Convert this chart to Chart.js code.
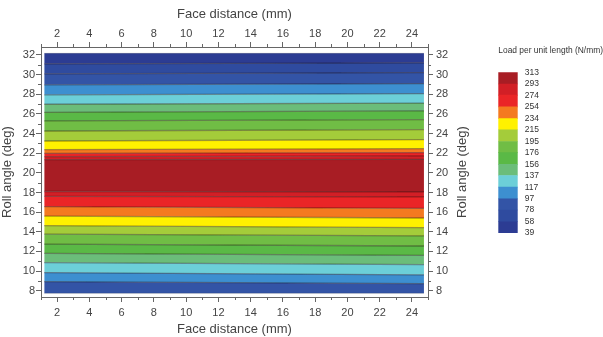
<!DOCTYPE html>
<html>
<head>
<meta charset="utf-8">
<script src="https://cdn.jsdelivr.net/npm/chart.js@4.4.1/dist/chart.umd.min.js"></script>
<style>
  body { margin: 0; background: #fff; }
  #wrap { position: relative; width: 603px; height: 337px; }
  #mainChart { position: absolute; left: 0; top: 0; }
  #scaleChart { position: absolute; left: 488px; top: 40px; }
</style>
</head>
<body>
<div id="wrap">
  <canvas id="mainChart" width="603" height="337"></canvas>
  <canvas id="scaleChart" width="115" height="205"></canvas>
</div>
<script>
// contour levels (N/mm) and the colour of each band between two levels
const levels = [39, 58, 78, 97, 117, 137, 156, 176, 195, 215, 234, 254, 274, 293, 313];
const bandColors = ['#2c3c93', '#2f4b9f', '#3354a6', '#3d8fd0', '#6ccfd8', '#6bbd7a', '#5ab946',
  '#70bd45', '#a4cc3a', '#fff100', '#f47a20', '#ea2527', '#d21f26', '#a81d24'];

// extent of the computed field
const xEnds = [1.2, 24.75];
const yBottom = 7.73;
const yTop = 32.17;

// contour lines below the peak (roll angle at left end / right end)
const lowerLevels = [97, 117, 137, 156, 176, 195, 215, 234, 254, 274, 293];
const lowerLeft  = [8.92, 9.85, 10.86, 11.8, 12.75, 13.76, 14.62, 15.6, 16.55, 17.6, 18.1];
const lowerRight = [8.72, 9.62, 10.66, 11.6, 12.55, 13.58, 14.42, 15.4, 16.38, 17.55, 18.06];

// contour lines above the peak
const upperLevels = [293, 274, 254, 234, 215, 195, 176, 156, 137, 117, 97, 78, 58];
const upperLeft  = [21.34, 21.64, 21.98, 22.36, 23.24, 24.26, 25.28, 26.16, 26.98, 27.94, 28.96, 30.08, 31.1];
const upperRight = [21.38, 21.72, 22.06, 22.46, 23.38, 24.4, 25.42, 26.3, 27.1, 28.06, 29.08, 30.2, 31.2];

// axis ticks
const xTicks = [2, 4, 6, 8, 10, 12, 14, 16, 18, 20, 22, 24];
const xMinor = [1, 3, 5, 7, 9, 11, 13, 15, 17, 19, 21, 23, 25];
const yTicks = [8, 10, 12, 14, 16, 18, 20, 22, 24, 26, 28, 30, 32];
const yMinor = [9, 11, 13, 15, 17, 19, 21, 23, 25, 27, 29, 31];

const frameColor = '#666';
const textColor = '#444';
const font = 'Liberation Sans, Arial, sans-serif';

function edge(y) {
  return xEnds.map(x => ({ x: x, y: y }));
}
function contour(l, r) {
  return [{ x: xEnds[0], y: l }, { x: xEnds[1], y: r }];
}

// build the stack of lines from the bottom of the plot to the top,
// each one filled down to the previous line with its band colour
const lines = [{ data: edge(yBottom), band: -1, edge: true }];
lowerLevels.forEach((lv, i) => {
  lines.push({ data: contour(lowerLeft[i], lowerRight[i]), band: levels.indexOf(lv) - 1 });
});
upperLevels.forEach((lv, i) => {
  lines.push({ data: contour(upperLeft[i], upperRight[i]), band: levels.indexOf(lv) });
});
lines.push({ data: edge(yTop), band: 0, edge: true });

const datasets = lines.map((l, i) => ({
  data: l.data,
  borderColor: l.edge ? 'rgba(0,0,0,0.12)' : 'rgba(30,10,10,0.38)',
  borderWidth: 1.3,
  backgroundColor: l.band >= 0 ? bandColors[l.band] : 'transparent',
  fill: i === 0 ? false : '-1',
  pointRadius: 0,
  tension: 0
}));

function axisGrid() {
  return { display: true, drawOnChartArea: false, drawTicks: true, tickLength: 5, color: frameColor };
}
function tickFont() {
  return { family: font, size: 11 };
}
function titleFont() {
  return { family: font, size: 13 };
}

// minor tick marks and the right-hand axis title (reads bottom to top)
const extras = {
  id: 'extras',
  afterDraw(chart) {
    const { ctx, chartArea: a, scales } = chart;
    ctx.save();
    ctx.strokeStyle = frameColor;
    ctx.lineWidth = 1;
    ctx.beginPath();
    xMinor.forEach(v => {
      const px = Math.round(scales.x.getPixelForValue(v)) + 0.5;
      ctx.moveTo(px, a.top); ctx.lineTo(px, a.top - 3);
      ctx.moveTo(px, a.bottom); ctx.lineTo(px, a.bottom + 3);
    });
    yMinor.forEach(v => {
      const py = Math.round(scales.y.getPixelForValue(v)) + 0.5;
      ctx.moveTo(a.left, py); ctx.lineTo(a.left - 3, py);
      ctx.moveTo(a.right, py); ctx.lineTo(a.right + 3, py);
    });
    ctx.stroke();

    ctx.fillStyle = textColor;
    ctx.font = '13px ' + font;
    ctx.textAlign = 'center';
    ctx.textBaseline = 'middle';
    ctx.translate(462, (a.top + a.bottom) / 2);
    ctx.rotate(-Math.PI / 2);
    ctx.fillText('Roll angle (deg)', 0, 0);
    ctx.restore();
  }
};

new Chart(document.getElementById('mainChart'), {
  type: 'line',
  data: { datasets: datasets },
  options: {
    responsive: false,
    animation: false,
    layout: { padding: { left: 0, right: 135, top: 0, bottom: 0 } },
    plugins: {
      legend: { display: false },
      tooltip: { enabled: false },
      filler: { propagate: false, drawTime: 'beforeDatasetsDraw' }
    },
    scales: {
      x: {
        type: 'linear', position: 'bottom', min: 1, max: 25,
        afterBuildTicks: s => { s.ticks = xTicks.map(v => ({ value: v })); },
        afterFit: s => { s.height = 40; },
        ticks: { color: textColor, font: tickFont(), padding: 4, maxRotation: 0, autoSkip: false },
        grid: axisGrid(),
        border: { display: true, color: frameColor },
        title: { display: true, text: 'Face distance (mm)', color: textColor, font: titleFont(), padding: { top: 0, bottom: 0 } }
      },
      x2: {
        type: 'linear', position: 'top', min: 1, max: 25,
        afterBuildTicks: s => { s.ticks = xTicks.map(v => ({ value: v })); },
        afterFit: s => { s.height = 47; },
        ticks: { color: textColor, font: tickFont(), padding: 1, maxRotation: 0, autoSkip: false },
        grid: axisGrid(),
        border: { display: true, color: frameColor },
        title: { display: true, text: 'Face distance (mm)', color: textColor, font: titleFont(), padding: { top: 7, bottom: 0 } }
      },
      y: {
        type: 'linear', position: 'left', min: 7.36, max: 32.81,
        afterBuildTicks: s => { s.ticks = yTicks.map(v => ({ value: v })); },
        afterFit: s => { s.width = 41; },
        ticks: { color: textColor, font: tickFont(), padding: 1, autoSkip: false },
        grid: axisGrid(),
        border: { display: true, color: frameColor },
        title: { display: true, text: 'Roll angle (deg)', color: textColor, font: titleFont(), padding: { top: 0, bottom: 0 } }
      },
      y2: {
        type: 'linear', position: 'right', min: 7.36, max: 32.81,
        afterBuildTicks: s => { s.ticks = yTicks.map(v => ({ value: v })); },
        afterFit: s => { s.width = 40; },
        ticks: { color: textColor, font: tickFont(), padding: 3, autoSkip: false },
        grid: axisGrid(),
        border: { display: true, color: frameColor },
        title: { display: false }
      }
    }
  },
  plugins: [extras]
});

// colour scale
const scaleSets = bandColors.map((c, i) => ({
  data: [[levels[i], levels[i + 1]]],
  backgroundColor: c,
  borderWidth: 0,
  barPercentage: 1,
  categoryPercentage: 1,
  grouped: false
}));

new Chart(document.getElementById('scaleChart'), {
  type: 'bar',
  data: { labels: [''], datasets: scaleSets },
  options: {
    responsive: false,
    animation: false,
    layout: { padding: { left: 10.3, right: 0, top: 0, bottom: 10 } },
    plugins: {
      legend: { display: false },
      tooltip: { enabled: false },
      title: {
        display: true, text: 'Load per unit length (N/mm)', align: 'start',
        color: '#333', font: { family: font, size: 8.5, weight: 'normal' },
        padding: { top: 6, bottom: 16.1 }
      }
    },
    scales: {
      x: { display: false },
      y: {
        position: 'right', min: 39, max: 313,
        afterBuildTicks: s => { s.ticks = levels.map(v => ({ value: v })); },
        afterFit: s => { s.width = 85.3; },
        ticks: { color: '#333', font: { family: font, size: 8.5 }, padding: 7, autoSkip: false },
        grid: { display: false, drawTicks: false },
        border: { display: false }
      }
    }
  }
});
</script>
</body>
</html>
